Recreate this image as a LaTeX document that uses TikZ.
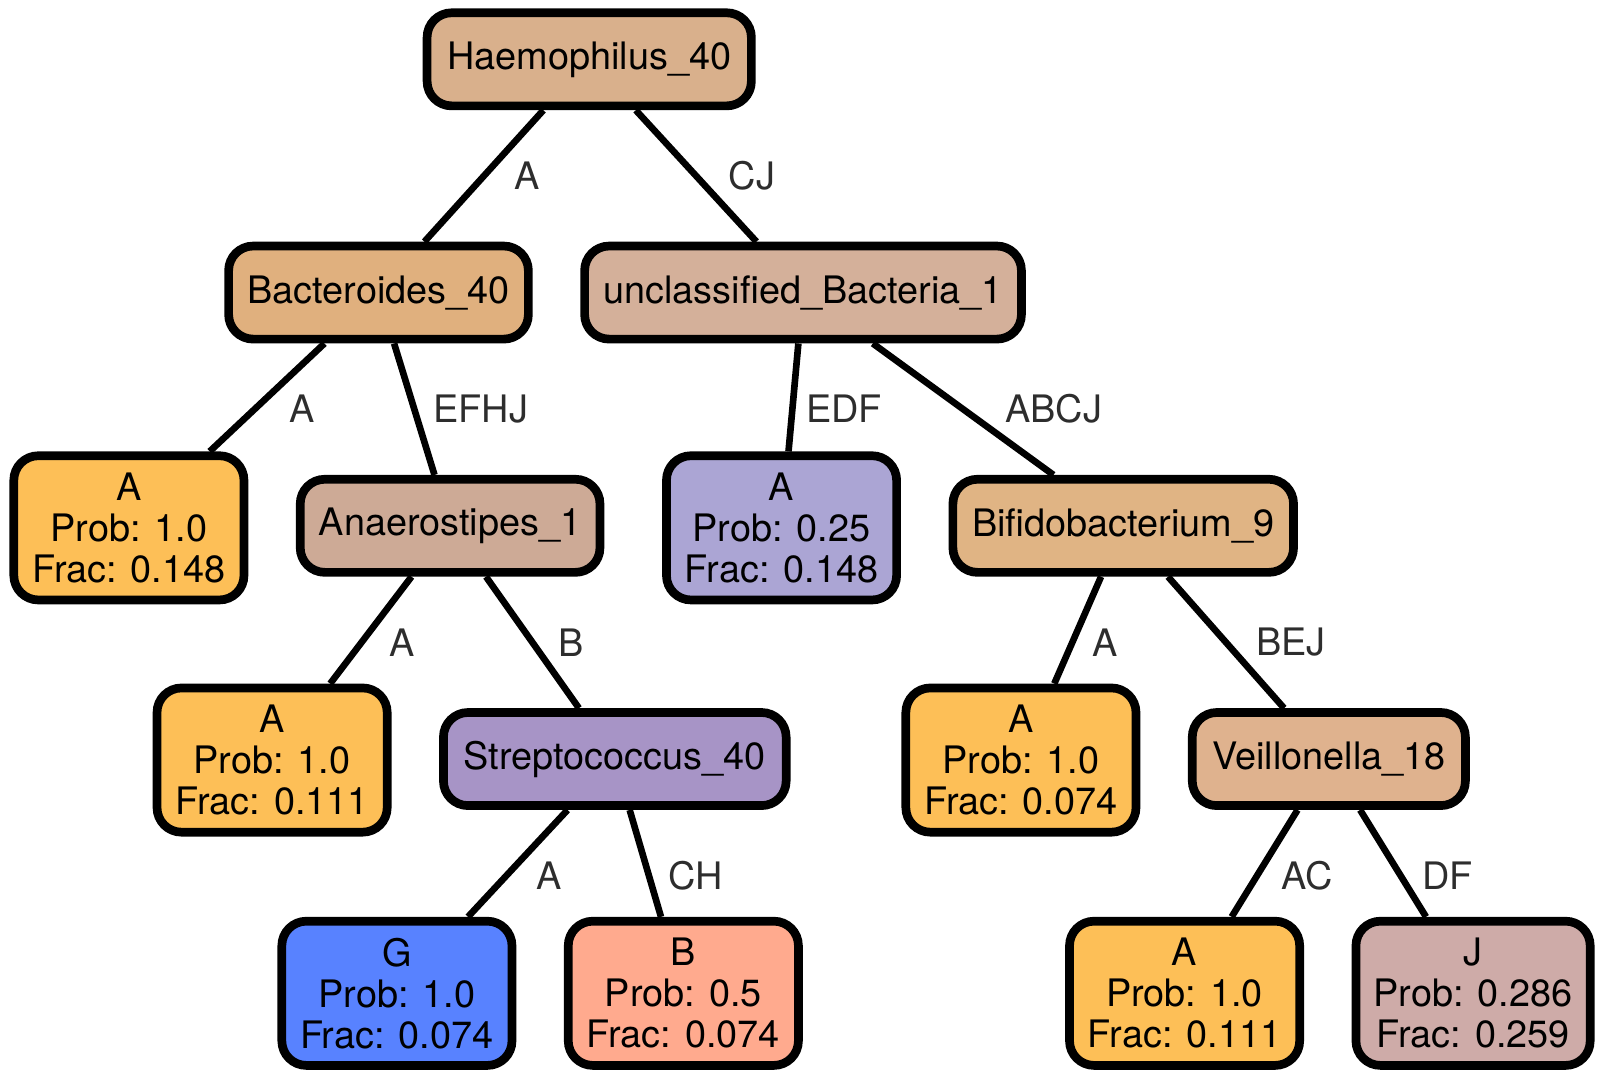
\documentclass[tikz,border=0pt]{standalone}
\usepackage{fontspec}
\setmainfont{TeX Gyre Heros}
\definecolor{cHaem}{RGB}{217,176,140}
\definecolor{cBact}{RGB}{224,176,126}
\definecolor{cUncl}{RGB}{212,176,154}
\definecolor{cAnae}{RGB}{205,170,150}
\definecolor{cBifi}{RGB}{224,180,132}
\definecolor{cVeil}{RGB}{223,178,142}
\definecolor{cStrep}{RGB}{167,148,198}
\definecolor{cOrange}{RGB}{253,191,87}
\definecolor{cLav}{RGB}{171,165,212}
\definecolor{cBlue}{RGB}{88,130,255}
\definecolor{cSalmon}{RGB}{255,170,142}
\definecolor{cRose}{RGB}{206,171,168}
\definecolor{labelgray}{RGB}{45,45,45}
\begin{document}
\begin{tikzpicture}[x=1pt,y=-1pt,
  box/.style={draw=black, line width=8.5pt, rounded corners=24pt, inner sep=0pt,
    minimum height=91pt, align=center, font=\fontsize{37}{40}\selectfont},
  leaf/.style={box, minimum width=225pt, minimum height=141pt},
  link/.style={line width=6.5pt},
  lbl/.style={text=labelgray, inner sep=0pt, font=\fontsize{37}{40}\selectfont}]

\useasboundingbox (0,0) rectangle (1568,1055);

% internal (taxon) nodes
\node[box, fill=cHaem, minimum width=317pt] (haem) at (576,58) {Haemophilus\_40};
\node[box, fill=cBact, minimum width=293pt] (bact) at (370,286) {Bacteroides\_40};
\node[box, fill=cUncl, minimum width=427pt] (uncl) at (785,286) {unclassified\_Bacteria\_1};
\node[box, fill=cAnae, minimum width=293pt] (anae) at (440,514) {Anaerostipes\_1};
\node[box, fill=cBifi, minimum width=333pt] (bifi) at (1098,514) {Bifidobacterium\_9};
\node[box, fill=cStrep, minimum width=335pt] (strep) at (601,742) {Streptococcus\_40};
\node[box, fill=cVeil, minimum width=267pt] (veil) at (1299,742) {Veillonella\_18};

% leaf nodes
\node[leaf, fill=cOrange] (leafA) at (126,516) {A\\Prob: 1.0\\Frac: 0.148};
\node[leaf, fill=cLav] (leafE) at (764,516) {A\\Prob: 0.25\\Frac: 0.148};
\node[leaf, fill=cOrange] (leafAn) at (266,743) {A\\Prob: 1.0\\Frac: 0.111};
\node[leaf, fill=cOrange] (leafBi) at (998,743) {A\\Prob: 1.0\\Frac: 0.074};
\node[leaf, fill=cBlue] (leafG) at (388,971) {G\\Prob: 1.0\\Frac: 0.074};
\node[leaf, fill=cSalmon] (leafB) at (668,971) {B\\Prob: 0.5\\Frac: 0.074};
\node[leaf, fill=cOrange] (leafVe) at (1158,971) {A\\Prob: 1.0\\Frac: 0.111};
\node[leaf, fill=cRose, minimum width=229pt] (leafJ) at (1440,971) {J\\Prob: 0.286\\Frac: 0.259};

% connectors
\draw[link] (haem) -- (bact);
\draw[link] (haem) -- (uncl);
\draw[link] (bact) -- (leafA);
\draw[link] (bact) -- (anae);
\draw[link] (uncl) -- (leafE);
\draw[link] (uncl) -- (bifi);
\draw[link] (anae) -- (leafAn);
\draw[link] (anae) -- (strep);
\draw[link] (bifi) -- (leafBi);
\draw[link] (bifi) -- (veil);
\draw[link] (strep) -- (leafG);
\draw[link] (strep) -- (leafB);
\draw[link] (veil) -- (leafVe);
\draw[link] (veil) -- (leafJ);

% connector labels
\node[lbl] (l1) at (515,172) {A};
\node[lbl] (l2) at (735,172) {CJ};
\node[lbl] (l3) at (295,400) {A};
\node[lbl] (l4) at (470,400) {EFHJ};
\node[lbl] (l5) at (825,400) {EDF};
\node[lbl] (l6) at (1030,400) {ABCJ};
\node[lbl] (l7) at (393,628) {A};
\node[lbl] (l8) at (558,628) {B};
\node[lbl] (l9) at (1080,628) {A};
\node[lbl] (l10) at (1262,628) {BEJ};
\node[lbl] (l11) at (537,856) {A};
\node[lbl] (l12) at (680,856) {CH};
\node[lbl] (l13) at (1278,856) {AC};
\node[lbl] (l14) at (1415,856) {DF};
\end{tikzpicture}
\end{document}
